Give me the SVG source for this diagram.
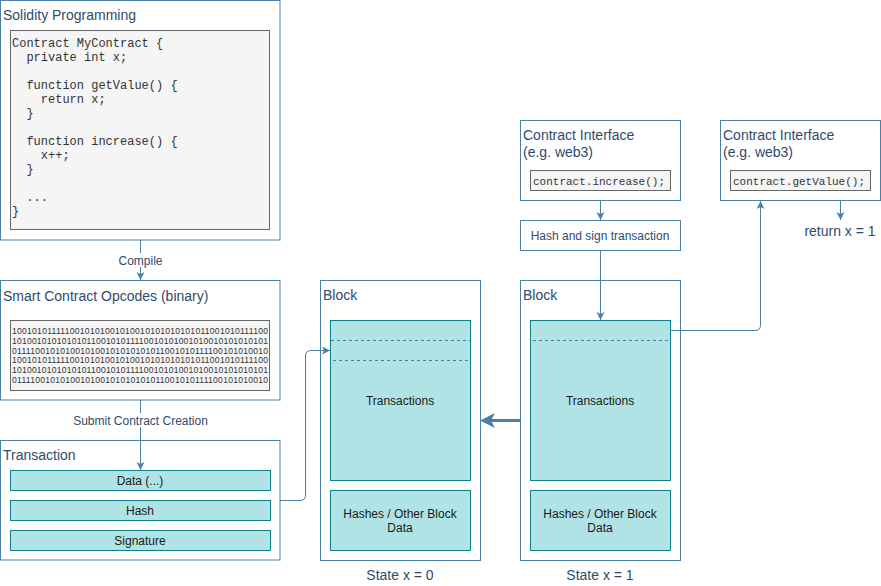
<svg xmlns="http://www.w3.org/2000/svg" width="881" height="586" viewBox="0 0 881 586">
<style>
.box{fill:#ffffff;stroke:#4a7fa6;stroke-width:1}
.code{fill:#f5f5f5;stroke:#666666;stroke-width:1}
.teal{fill:#b0e3e6;stroke:#0e8088;stroke-width:1}
.title{font-family:"Liberation Sans",Arial,sans-serif;font-size:14px;fill:#2f4b6b}
.lbl{font-family:"Liberation Sans",Arial,sans-serif;font-size:12px;fill:#2f4b6b;text-anchor:middle}
.tl{font-family:"Liberation Sans",Arial,sans-serif;font-size:12px;fill:#1a1a1a;text-anchor:middle}
.st{font-family:"Liberation Sans",Arial,sans-serif;font-size:14px;fill:#2f4b6b;text-anchor:middle}
.mono{font-family:"Liberation Mono","Courier New",monospace;font-size:12px;fill:#333333;white-space:pre}
.mono2{font-family:"Liberation Mono","Courier New",monospace;font-size:11px;fill:#333333}
.bin{font-family:"Liberation Sans",Arial,sans-serif;font-size:8.6px;fill:#333333}
.edge{fill:none;stroke:#4a7fa6;stroke-width:1}
.dash{fill:none;stroke:#4a7fa6;stroke-width:1;stroke-dasharray:3 3}
</style>
<defs>
<marker id="arr" markerUnits="userSpaceOnUse" markerWidth="10" markerHeight="10" refX="8" refY="4" orient="auto">
<path d="M0,0 L8,4 L0,8 L2,4 Z" fill="#4a7fa6"/>
</marker>
<marker id="big" markerUnits="userSpaceOnUse" markerWidth="18" markerHeight="16" refX="4" refY="7.5" orient="auto">
<path d="M0,0 L15,7.5 L0,15 L4,7.5 Z" fill="#4a7fa6"/>
</marker>
</defs>

<g id="solidity">
<rect class="box" x="0.5" y="0.5" width="279.5" height="239.5"/>
<text class="title" x="3" y="20">Solidity Programming</text>
<rect class="code" x="10.5" y="30.5" width="259" height="199"/>
<text class="mono" x="12" y="47" xml:space="preserve">Contract MyContract {</text>
<text class="mono" x="12" y="61" xml:space="preserve">  private int x;</text>
<text class="mono" x="12" y="89" xml:space="preserve">  function getValue() {</text>
<text class="mono" x="12" y="103" xml:space="preserve">    return x;</text>
<text class="mono" x="12" y="117" xml:space="preserve">  }</text>
<text class="mono" x="12" y="145" xml:space="preserve">  function increase() {</text>
<text class="mono" x="12" y="159" xml:space="preserve">    x++;</text>
<text class="mono" x="12" y="173" xml:space="preserve">  }</text>
<text class="mono" x="12" y="201" xml:space="preserve">  ...</text>
<text class="mono" x="12" y="215" xml:space="preserve">}</text>
</g>

<g id="opcodes">
<rect class="box" x="0.5" y="280.5" width="279.5" height="119.5"/>
<text class="title" x="3" y="301">Smart Contract Opcodes (binary)</text>
<rect class="code" x="10.5" y="320.5" width="259" height="70"/>
<text class="bin" x="12" y="334" textLength="256">1001010111110010101001010010101010101011001010111100</text>
<text class="bin" x="12" y="343.8" textLength="256">1010010101010101100101011110010101001010010101010101</text>
<text class="bin" x="12" y="353.6" textLength="256">0111100101010010100101010101011001010111100101010010</text>
<text class="bin" x="12" y="363.4" textLength="256">1001010111110010101001010010101010101011001010111100</text>
<text class="bin" x="12" y="373.2" textLength="256">1010010101010101100101011110010101001010010101010101</text>
<text class="bin" x="12" y="383" textLength="256">0111100101010010100101010101011001010111100101010010</text>
</g>

<g id="transaction">
<rect class="box" x="0.5" y="440.5" width="279.5" height="119.5"/>
<text class="title" x="3" y="460">Transaction</text>
<rect class="teal" x="10.5" y="470.5" width="260" height="20"/>
<text class="tl" x="140" y="484.5">Data (...)</text>
<rect class="teal" x="10.5" y="500.5" width="260" height="20"/>
<text class="tl" x="140" y="514.5">Hash</text>
<rect class="teal" x="10.5" y="530.5" width="260" height="20"/>
<text class="tl" x="140" y="544.5">Signature</text>
</g>

<g id="block1">
<rect class="box" x="320.5" y="280.5" width="160" height="280"/>
<text class="title" x="323" y="300">Block</text>
<rect class="teal" x="330.5" y="320.5" width="140" height="160"/>
<line class="dash" x1="331" y1="340.5" x2="470" y2="340.5"/>
<line class="dash" x1="333" y1="360.5" x2="470" y2="360.5"/>
<text class="tl" x="400" y="404.5">Transactions</text>
<rect class="teal" x="330.5" y="490.5" width="140" height="60"/>
<text class="tl" x="400" y="517.5">Hashes / Other Block</text>
<text class="tl" x="400" y="531.5">Data</text>
<text class="st" x="400" y="580">State x = 0</text>
</g>

<g id="block2">
<rect class="box" x="520.5" y="280.5" width="160" height="280"/>
<text class="title" x="523" y="300">Block</text>
<rect class="teal" x="530.5" y="320.5" width="140" height="160"/>
<line class="dash" x1="533" y1="340.5" x2="670" y2="340.5"/>
<text class="tl" x="600" y="404.5">Transactions</text>
<rect class="teal" x="530.5" y="490.5" width="140" height="60"/>
<text class="tl" x="600" y="517.5">Hashes / Other Block</text>
<text class="tl" x="600" y="531.5">Data</text>
<text class="st" x="600" y="580">State x = 1</text>
</g>

<g id="interface1">
<rect class="box" x="520.5" y="120.5" width="160" height="80"/>
<text class="title" x="523" y="140">Contract Interface</text>
<text class="title" x="523" y="157">(e.g. web3)</text>
<rect class="code" x="530.5" y="170.5" width="140" height="20"/>
<text class="mono2" x="533" y="185">contract.increase();</text>
</g>

<g id="hashsign">
<rect class="box" x="520.5" y="220.5" width="160" height="30"/>
<text class="lbl" x="600" y="239.5">Hash and sign transaction</text>
</g>

<g id="interface2">
<rect class="box" x="720.5" y="120.5" width="160" height="80"/>
<text class="title" x="723" y="140">Contract Interface</text>
<text class="title" x="723" y="157">(e.g. web3)</text>
<rect class="code" x="730.5" y="170.5" width="140" height="20"/>
<text class="mono2" x="733" y="185">contract.getValue();</text>
</g>

<g id="return">
<text class="st" x="840" y="236">return x = 1</text>
</g>

<g id="connectors">
<path class="edge" d="M140.5,240 V280" marker-end="url(#arr)"/>
<rect x="116" y="253" width="49" height="14" fill="#ffffff"/>
<text class="lbl" x="140.5" y="264.5">Compile</text>
<path class="edge" d="M140.5,400 V470" marker-end="url(#arr)"/>
<rect x="72" y="413" width="137" height="14" fill="#ffffff"/>
<text class="lbl" x="140.5" y="424.5">Submit Contract Creation</text>
<path class="edge" d="M280,500.5 H300 Q305.5,500.5 305.5,495 V356 Q305.5,350.5 311,350.5 H330" marker-end="url(#arr)"/>
<path class="edge" d="M600.5,200 V220" marker-end="url(#arr)"/>
<path class="edge" d="M600.5,250 V320" marker-end="url(#arr)"/>
<path class="edge" d="M840.5,200 V220" marker-end="url(#arr)"/>
<path class="edge" d="M670,330.5 H755 Q760.5,330.5 760.5,325 V201" marker-end="url(#arr)"/>
<path d="M520,420.5 H491" fill="none" stroke="#4a7fa6" stroke-width="3" marker-end="url(#big)"/>
</g>
</svg>
